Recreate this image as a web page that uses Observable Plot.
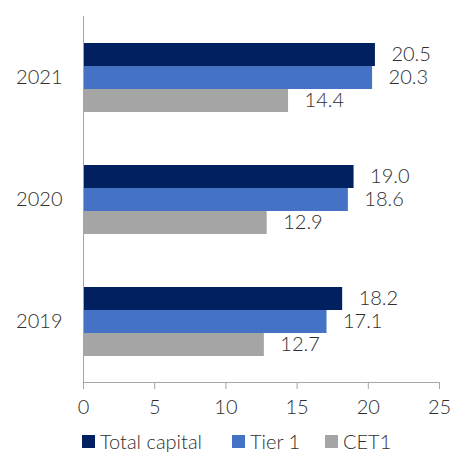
<!DOCTYPE html>
<html>
<head>
<meta charset="utf-8">
<script src="https://cdn.jsdelivr.net/npm/d3@7"></script>
<script src="https://cdn.jsdelivr.net/npm/@observablehq/plot@0.6"></script>
<style>
  body { margin: 0; background: #fff; font-family: Lato, sans-serif; }
  #wrap { position: relative; width: 452px; height: 453px; overflow: hidden; }
  #legend { position: absolute; left: 0; top: 430px; width: 452px; height: 22px; font-size: 20px; font-weight: 300; color: #2e2e2e; }
  .item { position: absolute; top: 0; display: flex; align-items: center; height: 22px; white-space: nowrap; }
  .sw { width: 13px; height: 13px; margin-right: 5px; display: inline-block; }
</style>
</head>
<body>
<div id="wrap"><div id="chart"></div><div id="legend"></div></div>
<script>
const years = ["2021", "2020", "2019"];
const series = ["Total capital", "Tier 1", "CET1"];
const colors = ["#002060", "#4472C4", "#A5A5A5"];
const totalCapital = [20.5, 19.0, 18.2];
const tier1 = [20.3, 18.6, 17.1];
const cet1 = [14.4, 12.9, 12.7];
const xTicks = [0, 5, 10, 15, 20, 25];

const values = [totalCapital, tier1, cet1];
const data = [];
years.forEach((y, i) => series.forEach((s, j) => data.push({year: y, series: s, value: values[j][i]})));

const chart = Plot.plot({
  width: 452,
  height: 422,
  marginTop: 15,
  marginBottom: 40,
  marginLeft: 83,
  marginRight: 13,
  style: {fontFamily: "Lato, sans-serif", fontSize: "20px", fontWeight: 300, color: "#2e2e2e", background: "#fff"},
  x: {domain: [0, 25]},
  y: {domain: series, paddingInner: 0, paddingOuter: 1.12, axis: null},
  fy: {domain: years, padding: 0, axis: null},
  color: {domain: series, range: colors},
  marks: [
    Plot.barX(data, {fy: "year", y: "series", x: "value", fill: "series"}),
    Plot.text(data, {fy: "year", y: "series", x: "value", text: d => d.value.toFixed(1), textAnchor: "start", dx: 16, fill: "#2e2e2e", fontSize: 20}),
    Plot.ruleX([0], {stroke: "#a6a6a6", strokeWidth: 1}),
    Plot.frame({anchor: "bottom", facetAnchor: "bottom", stroke: "#a6a6a6"}),
    Plot.axisFy({anchor: "left", label: null, tickSize: 0, tickPadding: 21, fontSize: 20}),
    Plot.axisX({ticks: xTicks, tickSize: 7, tickPadding: 10, label: null, stroke: "#a6a6a6", fill: "#2e2e2e", fontSize: 20})
  ]
});
document.getElementById("chart").appendChild(chart);

const legend = document.getElementById("legend");
const lefts = [82, 232, 325];
series.forEach((s, i) => {
  const it = document.createElement("div");
  it.className = "item";
  it.style.left = lefts[i] + "px";
  it.innerHTML = `<span class="sw" style="background:${colors[i]}"></span><span>${s}</span>`;
  legend.appendChild(it);
});
</script>
</body>
</html>
